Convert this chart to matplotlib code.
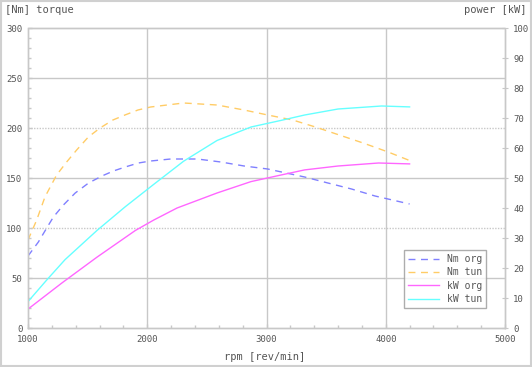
import matplotlib.pyplot as plt
from matplotlib.patches import Rectangle

# datos
rpm_nm_org = [1000, 1087, 1157, 1213, 1297, 1396, 1508, 1620, 1716, 1815, 1926, 2028,
              2197, 2420, 2617, 2812, 3010, 3320, 3515, 3713, 3910, 4200]
nm_org = [72, 86, 100, 111, 123, 135, 145, 152, 157, 161, 165, 167,
          169, 169, 166, 162, 159, 151, 145, 139, 132, 124]

rpm_nm_tun = [1000, 1073, 1142, 1240, 1324, 1408, 1506, 1604, 1712, 1813, 1922, 2028,
              2305, 2585, 2812, 3010, 3220, 3410, 3610, 3810, 4020, 4210]
nm_tun = [88, 108, 131, 153, 166, 178, 191, 200, 208, 213, 218, 221,
          225, 223, 218, 213, 208, 201, 193, 185, 176, 167]

rpm_kw_org = [1000, 1284, 1578, 1900, 2055, 2250, 2585, 2870, 3122, 3320, 3600, 3940, 4200]
kw_org = [6.3, 15.0, 23.6, 32.5, 36.0, 40.0, 45.0, 48.8, 51.0, 52.7, 54.0, 55.0, 54.7]

rpm_kw_tun = [1000, 1157, 1311, 1578, 1815, 2055, 2305, 2585, 2870, 3122, 3320, 3600, 3965, 4200]
kw_tun = [8.8, 16.0, 22.8, 32.5, 40.4, 47.9, 55.6, 62.5, 67.0, 69.2, 71.0, 73.0, 74.0, 73.7]

fig = plt.figure(figsize=(5.32, 3.67), dpi=100)
ax = fig.add_axes([28 / 532, 1 - 328 / 367, 477 / 532, 300 / 367])
ax2 = ax.twinx()

gris = '#c8c8c8'
texto = '#555555'
fuente = 'DejaVu Sans Mono'

# grilla: lineas solidas y punteadas alternadas
for v in [50, 150, 250]:
    ax.axhline(v, color=gris, lw=1, zorder=0)
for v in [100, 200]:
    ax.axhline(v, color=gris, lw=1, ls=(0, (1, 1)), zorder=0)
for v in [2000, 3000, 4000]:
    ax.axvline(v, color=gris, lw=1, zorder=0)

l1, = ax.plot(rpm_nm_org, nm_org, color='#8080ff', lw=1, ls=(0, (5, 4)), label='Nm org')
l2, = ax.plot(rpm_nm_tun, nm_tun, color='#ffcc66', lw=1, ls=(0, (5, 4)), label='Nm tun')
l3, = ax2.plot(rpm_kw_org, kw_org, color='#ff66ff', lw=1, label='kW org')
l4, = ax2.plot(rpm_kw_tun, kw_tun, color='#66ffff', lw=1, label='kW tun')

ax.set_xlim(1000, 5000)
ax.set_ylim(0, 300)
ax2.set_ylim(0, 100)

ax.set_xticks([1000, 2000, 3000, 4000, 5000])
ax.set_xticks(range(1000, 5001, 200), minor=True)
ax.set_yticks(range(0, 301, 50))
ax.set_yticks(range(0, 301, 10), minor=True)
ax2.set_yticks(range(0, 101, 10))

for a in (ax, ax2):
    for s in a.spines.values():
        s.set_color(gris)
        s.set_linewidth(1)
    a.spines['top'].set_linestyle((0, (1, 1)))
    a.spines['left'].set_linestyle((0, (1, 1)))
    a.spines['right'].set_linestyle((0, (1, 1)))

ax.tick_params(axis='both', which='both', colors=gris, labelcolor=texto, labelsize=6.5, width=1)
ax.tick_params(axis='x', which='major', length=3, direction='in', pad=5)
ax.tick_params(axis='x', which='minor', length=2, direction='in')
ax.tick_params(axis='y', which='major', length=3, direction='in', pad=4)
ax.tick_params(axis='y', which='minor', length=2, direction='in')
ax2.tick_params(axis='y', colors=gris, labelcolor=texto, labelsize=6.5, length=4, direction='inout', pad=4)

for lab in ax.get_xticklabels() + ax.get_yticklabels() + ax2.get_yticklabels():
    lab.set_fontfamily(fuente)

fig.text(5 / 532, 1 - 10 / 367, '[Nm] torque', fontsize=7.5, color=texto, family=fuente, va='center', ha='left')
fig.text(527 / 532, 1 - 10 / 367, 'power [kW]', fontsize=7.5, color=texto, family=fuente, va='center', ha='right')
fig.text(265 / 532, 1 - 357 / 367, 'rpm [rev/min]', fontsize=7.5, color=texto, family=fuente, va='center', ha='center')

leg = ax2.legend(handles=[l1, l2, l3, l4], loc='lower right', bbox_to_anchor=(0.97, 0.05),
                 prop={'family': fuente, 'size': 7}, frameon=True, fancybox=False,
                 edgecolor='#999999', handlelength=3.2, borderpad=0.4, labelspacing=0.35)
leg.get_frame().set_linewidth(1)
for t in leg.get_texts():
    t.set_color(texto)

# marco exterior
fig.patches.append(Rectangle((1 / 532, 1 / 367), 530 / 532, 365 / 367, transform=fig.transFigure,
                             fill=False, edgecolor='#d0d0d0', lw=1.5))

fig.savefig('out.png', dpi=100)
